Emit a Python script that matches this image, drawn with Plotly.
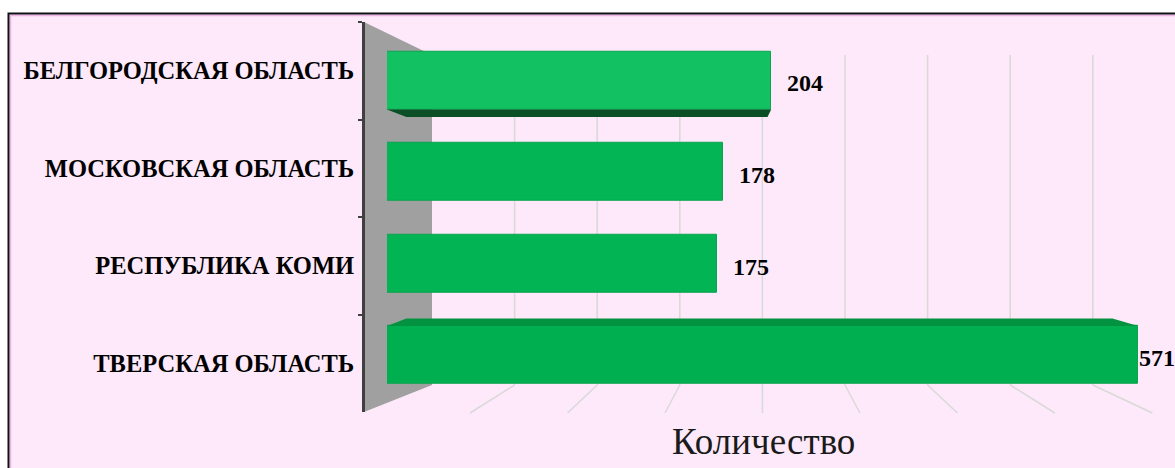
import math
import plotly.graph_objects as go

# Regions listed top to bottom, with their counts
regions = ["БЕЛГОРОДСКАЯ ОБЛАСТЬ", "МОСКОВСКАЯ ОБЛАСТЬ", "РЕСПУБЛИКА КОМИ", "ТВЕРСКАЯ ОБЛАСТЬ"]
counts = [204, 178, 175, 571]
axis_title = "Количество"

W, H = 1175, 468
SERIF = "Liberation Serif"
BG = "#FDE9F9"

# pixel -> paper helpers
def px(x):
    return x / W

def py(y):
    return 1 - y / H

# value axis (log) geometry
X_LEFT, X_RIGHT = 387, 1175
R0, R1 = 1.8417, 2.8015
SCALE = (X_RIGHT - X_LEFT) / (R1 - R0)

def v2px(v):
    return X_LEFT + (math.log10(v) - R0) * SCALE

def px2v(p):
    return 10 ** (R0 + (p - X_LEFT) / SCALE)

# bar rows: bottom row is 0
n = len(regions)
ypos = [n - 1 - i for i in range(n)]
ROW_PX = 91.5
BAR_W = 58 / ROW_PX
bar_colors = ["#12C262", "#03B554", "#02B453", "#00B050"]

fig = go.Figure()

# front faces of the bars
fig.add_trace(go.Bar(
    x=counts, y=ypos, orientation="h", width=BAR_W,
    marker=dict(color=bar_colors, line=dict(color="#0AA44F", width=1)),
    hoverinfo="skip", showlegend=False,
))

# receding top / bottom faces for the outer rows
VP_X, DEPTH_K, DEPTH_PX = 710, 0.94, 7.5
for v, yp in zip(counts, ypos):
    off = yp - (n - 1) / 2
    if abs(off) <= 1:
        continue
    x_front = [X_LEFT, v2px(v)]
    x_back = [VP_X + (p - VP_X) * DEPTH_K for p in x_front]
    if off > 0:
        edge = yp - BAR_W / 2
        back = edge - DEPTH_PX / ROW_PX
        color = "#0A4F25"
    else:
        edge = yp + BAR_W / 2
        back = edge + DEPTH_PX / ROW_PX
        color = "#03923F"
    xs = [px2v(x_front[0]), px2v(x_front[1]), px2v(x_back[1]), px2v(x_back[0]), px2v(x_front[0])]
    ys = [edge, edge, back, back, edge]
    fig.add_trace(go.Scatter(
        x=xs, y=ys, mode="lines", fill="toself", fillcolor=color,
        line=dict(width=0, color=color), hoverinfo="skip", showlegend=False,
    ))

# category axis carrying the region names
fig.add_trace(go.Scatter(
    x=counts, y=regions, yaxis="y2", mode="markers",
    marker=dict(opacity=0), hoverinfo="skip", showlegend=False,
))

# value labels (kept inside the right edge)
annotations = []
for v, yp in zip(counts, ypos):
    shift = min(14, W - 38 - v2px(v))
    annotations.append(dict(
        x=math.log10(v), y=yp, xref="x", yref="y", text=str(v),
        showarrow=False, xanchor="left", yanchor="middle",
        xshift=shift, yshift=-3,
        font=dict(family=SERIF, size=24, color="#000000", weight="bold"),
    ))
annotations.append(dict(
    x=px(763), y=py(441), xref="paper", yref="paper", text=axis_title,
    showarrow=False, xanchor="center", yanchor="middle",
    font=dict(family=SERIF, size=37, color="#1A1A1A"),
))

shapes = []
# white surround and chart border
shapes.append(dict(type="rect", xref="paper", yref="paper", x0=px(-5), x1=px(W + 5),
                   y0=py(13), y1=py(-5), fillcolor="white", line=dict(width=0), layer="below"))
shapes.append(dict(type="rect", xref="paper", yref="paper", x0=px(-5), x1=px(8),
                   y0=py(H + 5), y1=py(-5), fillcolor="white", line=dict(width=0), layer="below"))
shapes.append(dict(type="rect", xref="paper", yref="paper", x0=px(10.5), x1=px(W + 20),
                   y0=py(H + 20), y1=py(15.5), fillcolor="rgba(0,0,0,0)",
                   line=dict(color="#EDB2EA", width=1.5), layer="below"))
shapes.append(dict(type="rect", xref="paper", yref="paper", x0=px(8.5), x1=px(W + 20),
                   y0=py(H + 20), y1=py(13.5), fillcolor="rgba(0,0,0,0)",
                   line=dict(color="#111111", width=2), layer="below"))

# side wall
wall = [(364, 22), (432, 55), (432, 385), (364, 412)]
path = "M " + " L ".join(f"{px(x):.5f},{py(y):.5f}" for x, y in wall) + " Z"
shapes.append(dict(type="path", xref="paper", yref="paper", path=path,
                   fillcolor="#A0A0A0", line=dict(width=0), layer="below"))

# back-wall gridlines and their floor continuations
GRID0, GRID_STEP = 432, 82.6
for k in range(1, 9):
    gx = GRID0 + k * GRID_STEP
    shapes.append(dict(type="line", xref="paper", yref="paper", x0=px(gx), x1=px(gx),
                       y0=py(55), y1=py(385), line=dict(color="#D9D9D9", width=1.5), layer="below"))
    fx = 762 + (gx - 762) * 1.18
    shapes.append(dict(type="line", xref="paper", yref="paper", x0=px(gx), x1=px(fx),
                       y0=py(385), y1=py(413), line=dict(color="#D9D9D9", width=1.5), layer="below"))

fig.update_layout(
    width=W, height=H, autosize=False,
    margin=dict(l=0, r=0, t=0, b=0, pad=0),
    paper_bgcolor=BG, plot_bgcolor="rgba(0,0,0,0)",
    showlegend=False, bargap=0,
    xaxis=dict(type="log", domain=[px(X_LEFT), px(X_RIGHT)], range=[R0, R1],
               showgrid=False, showticklabels=False, ticks="", showline=False,
               zeroline=False, fixedrange=True, anchor="y"),
    yaxis=dict(domain=[py(355 + ROW_PX * 0.5), py(355 - ROW_PX * 3.5)],
               range=[-0.5, n - 0.5], visible=False, fixedrange=True, anchor="x"),
    yaxis2=dict(type="category", categoryorder="array", categoryarray=regions[::-1],
                domain=[py(412), py(22)], range=[-0.5, n - 0.5],
                anchor="free", position=px(363), side="left",
                showgrid=False, zeroline=False, showline=True,
                linecolor="#404040", linewidth=3,
                ticks="outside", ticklen=4, tickwidth=2, tickcolor="#404040",
                tickson="boundaries", ticklabelstandoff=3,
                tickfont=dict(family=SERIF, size=24.5, color="#000000", weight="bold"),
                automargin=False, fixedrange=True),
    annotations=annotations,
    shapes=shapes,
)

fig.write_html("out.html")
